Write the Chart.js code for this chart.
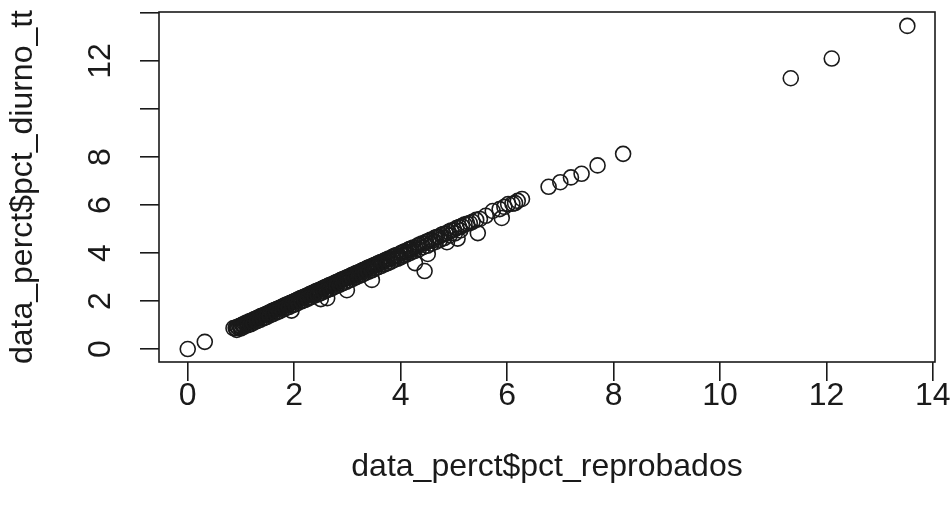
<!DOCTYPE html>
<html>
<head>
<meta charset="utf-8">
<script src="https://cdn.jsdelivr.net/npm/chart.js@4/dist/chart.umd.min.js"></script>
<style>
  html, body { margin: 0; padding: 0; background: #ffffff; }
  #wrap { width: 952px; height: 519px; }
</style>
</head>
<body>
<div id="wrap"><canvas id="c" width="952" height="519"></canvas></div>
<script>
// ---- data ----
const xLabel = "data_perct$pct_reprobados";
const yLabel = "data_perct$pct_diurno_tt";

const xTicks = [0, 2, 4, 6, 8, 10, 12, 14];
const xTickLabels = ["0", "2", "4", "6", "8", "10", "12", "14"];
const yTicks = [0, 2, 4, 6, 8, 10, 12, 14];
const yTickLabels = ["0", "2", "4", "6", "8", "", "12", ""];

const xValues = [
  0.00, 0.32,
  0.86, 0.90, 0.93, 0.95, 0.97, 0.99, 1.00, 1.02, 1.04, 1.05, 1.07, 1.09, 1.11, 1.13, 1.15, 1.17, 1.19,
  1.21, 1.23, 1.25, 1.27, 1.29, 1.31, 1.33, 1.35, 1.37, 1.39, 1.41, 1.43, 1.45, 1.47, 1.49,
  1.51, 1.53, 1.55, 1.57, 1.59, 1.61, 1.63, 1.65, 1.67, 1.69, 1.71, 1.73, 1.75, 1.77, 1.79,
  1.81, 1.83, 1.85, 1.87, 1.89, 1.91, 1.93, 1.95, 1.97, 1.99, 2.01, 2.03, 2.05, 2.07, 2.09,
  2.11, 2.13, 2.15, 2.17, 2.19, 2.21, 2.23, 2.25, 2.27, 2.29, 2.31, 2.33, 2.35, 2.37, 2.39,
  2.41, 2.43, 2.45, 2.47, 2.49, 2.51, 2.53, 2.55, 2.57, 2.59, 2.61, 2.63, 2.65, 2.67, 2.69,
  2.71, 2.73, 2.75, 2.77, 2.79, 2.81, 2.83, 2.85, 2.87, 2.89, 2.91, 2.93, 2.95, 2.97, 2.99,
  3.01, 3.03, 3.05, 3.07, 3.09, 3.11, 3.13, 3.15, 3.17, 3.19, 3.21, 3.23, 3.25, 3.27, 3.29,
  3.31, 3.33, 3.35, 3.37, 3.39, 3.41, 3.43, 3.45, 3.47, 3.49, 3.51, 3.53, 3.55, 3.57, 3.60,
  3.63, 3.66, 3.69, 3.72, 3.75, 3.78, 3.81, 3.84, 3.87, 3.90, 3.93, 3.96, 3.99, 4.02, 4.05,
  4.08, 4.11, 4.14, 4.17, 4.20, 4.24, 4.28, 4.32, 4.36, 4.40, 4.44, 4.48, 4.52, 4.56, 4.60,
  4.64, 4.68, 4.72, 4.76, 4.80, 4.85, 4.90, 4.95, 5.00, 5.05, 5.10, 5.15, 5.20, 5.25, 5.30,
  5.35, 5.42, 5.49, 5.60, 5.73, 5.86, 5.95, 6.02, 6.10, 6.15, 6.20, 6.28,
  6.78, 7.00, 7.20, 7.40, 7.70, 8.18, 11.33, 12.10, 13.52,
  1.95, 2.50, 2.62, 2.99, 3.46, 4.27, 4.45, 4.51, 4.87, 5.07, 5.45, 5.90,
  0.92, 1.00, 1.06, 1.12, 1.18, 1.24, 1.30, 1.36, 1.42, 1.48, 1.54, 1.60, 1.66, 1.72, 1.78,
  1.84, 1.90, 1.96, 2.02, 2.08, 2.14, 2.20, 2.26, 2.32, 2.38, 2.44, 2.50, 2.56, 2.62, 2.68,
  2.74, 2.80, 2.86, 2.92, 2.98, 3.04, 3.10, 3.16, 3.22, 3.28, 3.34, 3.40, 3.46, 3.52, 3.58,
  3.64, 3.70, 3.76, 3.82, 3.88, 3.94, 4.00, 4.06, 4.12, 4.18, 4.26, 4.34, 4.42, 4.50, 4.58,
  4.66, 4.74, 4.82, 4.92, 5.02, 5.12
];
const yValues = [
  0.00, 0.30,
  0.87, 0.88, 0.92, 0.90, 0.96, 0.97, 0.93, 1.01, 1.02, 0.98, 1.06, 1.07, 1.10, 1.09, 1.14, 1.15, 1.18,
  1.16, 1.22, 1.24, 1.25, 1.27, 1.30, 1.29, 1.34, 1.36, 1.37, 1.40, 1.41, 1.42, 1.46, 1.47,
  1.49, 1.52, 1.50, 1.56, 1.58, 1.60, 1.61, 1.63, 1.66, 1.68, 1.69, 1.72, 1.70, 1.76, 1.77,
  1.80, 1.82, 1.83, 1.86, 1.84, 1.90, 1.92, 1.93, 1.96, 1.97, 2.00, 1.98, 2.04, 2.06, 2.07,
  2.10, 2.12, 2.11, 2.16, 2.18, 2.19, 2.22, 2.15, 2.26, 2.28, 2.30, 2.31, 2.34, 2.30, 2.38,
  2.40, 2.41, 2.44, 2.46, 2.42, 2.50, 2.52, 2.53, 2.56, 2.58, 2.49, 2.62, 2.64, 2.65, 2.68,
  2.70, 2.66, 2.74, 2.76, 2.78, 2.80, 2.74, 2.84, 2.86, 2.88, 2.90, 2.89, 2.94, 2.96, 2.98,
  3.00, 2.98, 3.04, 3.06, 3.08, 3.10, 3.05, 3.14, 3.16, 3.18, 3.20, 3.17, 3.24, 3.26, 3.28,
  3.30, 3.26, 3.34, 3.36, 3.38, 3.40, 3.35, 3.44, 3.46, 3.48, 3.50, 3.47, 3.54, 3.56, 3.59,
  3.62, 3.60, 3.68, 3.71, 3.74, 3.77, 3.75, 3.83, 3.86, 3.89, 3.92, 3.88, 3.98, 4.01, 4.04,
  4.07, 4.02, 4.13, 4.16, 4.19, 4.23, 4.20, 4.31, 4.35, 4.39, 4.40, 4.47, 4.50, 4.55, 4.52,
  4.63, 4.67, 4.68, 4.75, 4.79, 4.80, 4.88, 4.94, 4.96, 5.04, 5.08, 5.12, 5.19, 5.22, 5.25,
  5.30, 5.38, 5.42, 5.55, 5.75, 5.83, 5.92, 6.04, 6.05, 6.08, 6.17, 6.25,
  6.76, 6.95, 7.15, 7.30, 7.65, 8.13, 11.28, 12.10, 13.46,
  1.60, 2.08, 2.12, 2.45, 2.88, 3.58, 3.25, 3.96, 4.45, 4.60, 4.83, 5.46,
  0.80, 0.86, 0.93, 0.99, 1.03, 1.10, 1.16, 1.21, 1.28, 1.33, 1.40, 1.45, 1.52, 1.57, 1.64,
  1.70, 1.75, 1.82, 1.86, 1.93, 1.99, 2.04, 2.10, 2.16, 2.22, 2.27, 2.33, 2.39, 2.45, 2.50,
  2.57, 2.63, 2.68, 2.75, 2.80, 2.87, 2.92, 2.99, 3.05, 3.10, 3.17, 3.22, 3.28, 3.35, 3.41,
  3.46, 3.53, 3.58, 3.64, 3.71, 3.76, 3.82, 3.89, 3.94, 4.01, 4.08, 4.15, 4.24, 4.30, 4.39,
  4.46, 4.55, 4.62, 4.73, 4.82, 4.94
];

// ---- chart ----
const FONT = "'Liberation Sans', Arial, Helvetica, sans-serif";
const INK = "#1a1a1a";
const points = xValues.map((x, i) => ({ x: x, y: yValues[i] }));

const boxPlugin = {
  id: "rbox",
  afterDraw(chart) {
    const a = chart.chartArea;
    const ctx = chart.ctx;
    ctx.save();
    ctx.strokeStyle = INK;
    ctx.lineWidth = 1.6;
    ctx.strokeRect(a.left, a.top, a.right - a.left, a.bottom - a.top);
    ctx.restore();
  }
};

new Chart(document.getElementById("c"), {
  type: "scatter",
  data: {
    datasets: [{
      data: points,
      pointStyle: "circle",
      pointRadius: 7.5,
      pointHoverRadius: 7.5,
      pointBorderWidth: 1.6,
      borderColor: INK,
      pointBorderColor: INK,
      backgroundColor: "rgba(0,0,0,0)",
      pointBackgroundColor: "rgba(0,0,0,0)"
    }]
  },
  options: {
    responsive: false,
    animation: false,
    devicePixelRatio: 1,
    layout: { padding: { top: 12, right: 17, left: 0, bottom: 0 } },
    plugins: { legend: { display: false }, tooltip: { enabled: false } },
    scales: {
      x: {
        type: "linear",
        position: "bottom",
        min: -0.54,
        max: 14.04,
        afterBuildTicks: (s) => { s.ticks = xTicks.map(v => ({ value: v })); },
        afterFit: (s) => { s.height = 157; s.paddingLeft = 0; s.paddingRight = 0; },
        grid: { drawOnChartArea: false, drawTicks: true, tickLength: 19, color: INK, lineWidth: 1.6 },
        border: { display: false },
        ticks: {
          autoSkip: false,
          maxRotation: 0,
          minRotation: 0,
          padding: -1,
          color: INK,
          font: { family: FONT, size: 32, lineHeight: 1 },
          callback: (v, i) => xTickLabels[i]
        },
        title: {
          display: true,
          text: xLabel,
          color: INK,
          font: { family: FONT, size: 32, lineHeight: 1 },
          padding: { top: 0, bottom: 36 }
        }
      },
      y: {
        type: "linear",
        position: "left",
        min: -0.54,
        max: 14.04,
        afterBuildTicks: (s) => { s.ticks = yTicks.map(v => ({ value: v })); },
        afterFit: (s) => { s.width = 159; s.paddingTop = 0; s.paddingBottom = 0; },
        grid: { drawOnChartArea: false, drawTicks: true, tickLength: 19, color: INK, lineWidth: 1.6 },
        border: { display: false },
        ticks: {
          autoSkip: false,
          minRotation: 90,
          maxRotation: 90,
          crossAlign: "center",
          padding: 21,
          color: INK,
          font: { family: FONT, size: 32, lineHeight: 1 },
          callback: (v, i) => yTickLabels[i]
        },
        title: {
          display: true,
          text: yLabel,
          color: INK,
          font: { family: FONT, size: 32, lineHeight: 1 },
          padding: { top: 7, bottom: 0 }
        }
      }
    }
  },
  plugins: [boxPlugin]
});
</script>
</body>
</html>
